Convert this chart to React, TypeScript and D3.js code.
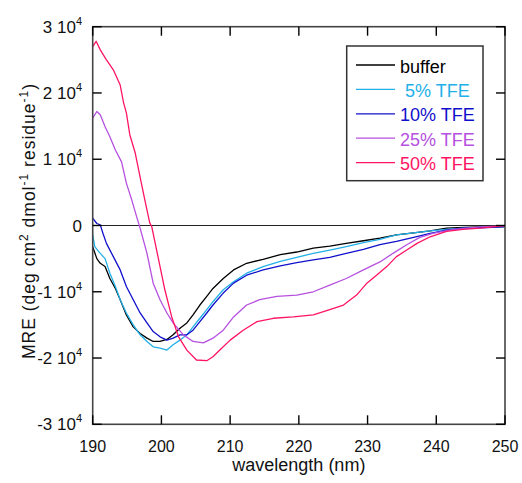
import React from "react";
import * as d3 from "d3";

const seriesNames = ["buffer", "5% TFE", "10% TFE", "25% TFE", "50% TFE"];
const seriesColors = ["#000000", "#22B0E8", "#1010CC", "#B650E0", "#FF1464"];

const bufferWl = [190, 190.6, 191.1, 191.8, 192.5, 193.3, 194, 194.9, 195.9, 196.9, 197.9, 198.8, 199.8, 200.8, 201.7, 202.7, 203.7, 204.6, 205.6, 206.6, 207.5, 209, 210.5, 212.4, 214.8, 217.3, 219.7, 222.1, 224.5, 226.9, 229.4, 231.8, 234.2, 236.7, 239.1, 241.5, 244, 246.4, 249.3, 250];
const bufferMre = [-3200, -5000, -5700, -6200, -8000, -9500, -11200, -13500, -15300, -16300, -17000, -17500, -17500, -17200, -16500, -15500, -14700, -13500, -12000, -10700, -9500, -8000, -6700, -5700, -5100, -4400, -4000, -3400, -3100, -2700, -2300, -1900, -1400, -1100, -800, -400, -300, -200, -200, -150];

const tfe5Wl = [190, 190.3, 191.1, 191.8, 192.5, 193.3, 194, 194.9, 195.9, 196.9, 197.9, 198.8, 199.8, 200.8, 201.7, 202.7, 203.7, 204.6, 205.6, 206.6, 207.5, 209, 210.5, 212.4, 214.8, 217.3, 219.7, 222.1, 224.5, 226.9, 229.4, 231.8, 234.2, 236.7, 239.1, 241.5, 244, 246.4, 249.3, 250];
const tfe5Mre = [-1400, -3200, -4200, -5000, -7200, -9200, -11200, -13200, -15000, -16500, -17500, -18300, -18500, -18800, -18000, -17300, -16500, -15300, -14000, -12700, -11500, -9700, -8500, -7200, -6200, -5400, -4800, -4200, -3700, -3200, -2600, -2100, -1400, -1100, -800, -600, -400, -300, -200, -150];

const tfe10Wl = [190, 190.6, 191.1, 191.5, 192, 193, 194, 194.9, 195.9, 196.9, 197.9, 198.8, 199.8, 200.8, 201.7, 202.7, 203.7, 204.6, 205.6, 206.6, 207.5, 209, 210.5, 212.4, 214.8, 217.3, 219.7, 222.1, 224.5, 226.9, 229.4, 231.8, 234.2, 236.7, 239.1, 241.5, 244, 247.4, 249.3, 250];
const tfe10Mre = [1100, 300, 100, -1200, -2700, -4700, -6700, -9200, -11200, -13200, -14700, -16000, -16800, -17300, -17000, -16500, -16500, -15800, -14500, -13200, -12000, -10200, -8700, -7500, -6700, -6100, -5600, -5200, -4800, -4200, -3600, -2900, -2400, -1800, -1200, -700, -400, -300, -200, -150];

const tfe25Wl = [190, 190.6, 191.1, 191.8, 192.5, 193.3, 194.2, 194.9, 195.7, 196.4, 196.9, 197.9, 198.8, 199.8, 200.8, 201.7, 203.2, 204.6, 206.1, 207.5, 209, 210.5, 212.4, 214.3, 216.8, 219.7, 222.1, 224.5, 226.9, 229.4, 231.8, 233.7, 235.7, 237.6, 239.5, 242.5, 246.4, 249.3, 250];
const tfe25Mre = [16200, 17200, 16700, 14900, 13400, 11400, 9600, 6400, 3800, 1300, -400, -4200, -8700, -11200, -13200, -14700, -16500, -17500, -17700, -17000, -15800, -13800, -12000, -11200, -10700, -10500, -10000, -9000, -8000, -6700, -5500, -4200, -2900, -1800, -1200, -600, -200, -100, -50];

const tfe50Wl = [190, 190.5, 191.1, 192, 193, 194, 194.5, 194.9, 195.4, 196.2, 196.9, 197.6, 198.3, 198.6, 199.5, 200.5, 201.5, 202.5, 203.7, 205.1, 206.6, 207.5, 208.5, 210, 211.9, 213.9, 216.3, 219.2, 222.1, 224.5, 226.5, 228.4, 229.9, 231.3, 232.8, 234.2, 235.7, 237.2, 239.1, 241.5, 243.9, 246.4, 249.3, 250];
const tfe50Mre = [27000, 27800, 26500, 25000, 23500, 21200, 18500, 17000, 13700, 10900, 7300, 3800, 400, -200, -4700, -9700, -13800, -16800, -18800, -20300, -20400, -19800, -18800, -17300, -15800, -14500, -14000, -13800, -13500, -12700, -12000, -10500, -8700, -7500, -6200, -4700, -3700, -2700, -1700, -900, -600, -400, -100, 0];

const allWl = [bufferWl, tfe5Wl, tfe10Wl, tfe25Wl, tfe50Wl];
const allMre = [bufferMre, tfe5Mre, tfe10Mre, tfe25Mre, tfe50Mre];

const xTicks = [190, 200, 210, 220, 230, 240, 250];
const yTicks = [30000, 20000, 10000, 0, -10000, -20000, -30000];
const yTickMant = ["3", "2", "1", "0", "-1", "-2", "-3"];

const W = 522, H = 483;
const L = 92.7, R = 505, T = 26.7, B = 424.3;
const FONT = "'Liberation Sans', Arial, sans-serif";

export default function App() {
  const x = d3.scaleLinear().domain([190, 250]).range([L, R]);
  const y = d3.scaleLinear().domain([-30000, 30000]).range([B, T]);
  const line = d3.line<[number, number]>().x((d) => x(d[0])).y((d) => y(d[1]));
  const tickLen = 9;

  return (
    <svg width={W} height={H} style={{ position: "absolute", left: 0, top: 0, background: "#fff" }} fontFamily={FONT}>
      <rect x={0} y={0} width={W} height={H} fill="#fff" />
      <defs>
        <clipPath id="clip">
          <rect x={L} y={T} width={R - L} height={B - T} />
        </clipPath>
      </defs>
      {/* zero line */}
      <line x1={L} x2={R} y1={y(0)} y2={y(0)} stroke="#222" strokeWidth={1.2} />
      {/* curves */}
      <g clipPath="url(#clip)">
        {allWl.map((wl, i) => (
          <path key={i} d={line(wl.map((w, j) => [w, allMre[i][j]]) as [number, number][]) || ""} fill="none" stroke={seriesColors[i]} strokeWidth={1.3} strokeLinejoin="round" />
        ))}
      </g>
      {/* frame */}
      <rect x={L} y={T} width={R - L} height={B - T} fill="none" stroke="#444" strokeWidth={1.6} />
      {/* ticks */}
      {xTicks.map((t) => (
        <g key={"x" + t}>
          <line x1={x(t)} x2={x(t)} y1={B} y2={B - tickLen} stroke="#000" strokeWidth={1.4} />
          <line x1={x(t)} x2={x(t)} y1={T} y2={T + tickLen} stroke="#000" strokeWidth={1.4} />
          <text x={x(t)} y={452} textAnchor="middle" fontSize={16} fill="#111">{t}</text>
        </g>
      ))}
      {yTicks.map((t, i) => (
        <g key={"y" + t}>
          <line x1={L} x2={L + tickLen} y1={y(t)} y2={y(t)} stroke="#000" strokeWidth={1.4} />
          <line x1={R} x2={R - tickLen} y1={y(t)} y2={y(t)} stroke="#000" strokeWidth={1.4} />
          {t === 0 ? (
            <text x={82} y={y(t) + 6} textAnchor="end" fontSize={17} fill="#111">0</text>
          ) : (
            <text x={82} y={y(t) + 6} textAnchor="end" fontSize={17} fill="#111">
              {yTickMant[i] + " 10"}
              <tspan dy={-8} fontSize={11}>4</tspan>
            </text>
          )}
        </g>
      ))}
      {/* axis titles */}
      <text x={(L + R) / 2} y={471} textAnchor="middle" fontSize={18} fill="#111">wavelength (nm)</text>
      <text transform={`translate(35, 221.5) rotate(-90)`} textAnchor="middle" fontSize={17.5} fill="#111" textLength={275} lengthAdjust="spacing">
        MRE (deg cm<tspan dy={-7} fontSize={12}>2</tspan><tspan dy={7}> dmol</tspan><tspan dy={-7} fontSize={12}>-1</tspan><tspan dy={7}> residue</tspan><tspan dy={-7} fontSize={12}>-1</tspan><tspan dy={7}>)</tspan>
      </text>
      {/* legend */}
      <rect x={346.7} y={46} width={136.3} height={134.7} fill="#fff" stroke="#333" strokeWidth={1.5} />
      {seriesNames.map((n, i) => {
        const ly = 65 + i * 24.4;
        return (
          <g key={n}>
            <line x1={356} x2={395} y1={ly} y2={ly} stroke={seriesColors[i]} strokeWidth={1.3} />
            <text x={i === 1 ? 405 : 400} y={ly + 7.5} fontSize={18} fill={seriesColors[i]}>{n}</text>
          </g>
        );
      })}
    </svg>
  );
}
